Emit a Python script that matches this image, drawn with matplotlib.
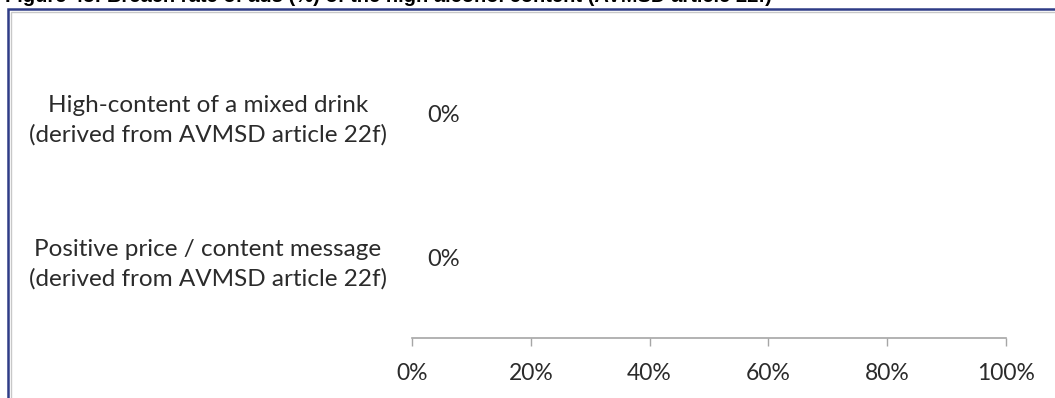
import matplotlib
matplotlib.use("Agg")
import matplotlib.pyplot as plt
from matplotlib.patches import Rectangle
from matplotlib.ticker import FixedLocator

categories = [
    "High-content of a mixed drink\n(derived from AVMSD article 22f)",
    "Positive price / content message\n(derived from AVMSD article 22f)",
]
values = [0, 0]
xticks = [0, 20, 40, 60, 80, 100]
xticklabels = ["0%", "20%", "40%", "60%", "80%", "100%"]
title = "Figure 45: Breach rate of ads (%) of the high alcohol content (AVMSD article 22f)"

W, H = 1055, 398
fig = plt.figure(figsize=(W / 100, H / 100), dpi=100)
fig.patch.set_facecolor("white")

font = "Lato"
txtcol = "#2B2B2B"

# axes: x from 412 to 1006 px, bottom at 338, top at 34
left, right = 412 / W, 1006 / W
bottom, top = 1 - 338 / H, 1 - 34 / H
ax = fig.add_axes([left, bottom, right - left, top - bottom])
ax.set_facecolor("none")

ypos = [1, 0]
ax.barh(ypos, values, height=0.5, color="#4F81BD")
ax.set_xlim(0, 100)
ax.set_ylim(-0.556, 1.556)
for y, v in zip(ypos, values):
    ax.annotate(f"{v}%", xy=(v, y), xytext=(11, -1), textcoords="offset points",
                ha="left", va="center", fontsize=17, family=font, color=txtcol)

ax.set_yticks(ypos)
ax.set_yticklabels(categories, fontsize=17.5, family=font, color=txtcol,
                   ha="center", multialignment="center", linespacing=1.45)
ax.tick_params(axis="y", length=0, pad=(412 - 208) * 0.72)

ax.xaxis.set_major_locator(FixedLocator(xticks))
ax.set_xticklabels(xticklabels, fontsize=16.5, family=font, color=txtcol)
ax.tick_params(axis="x", direction="out", length=6, width=1, color="#A6A6A6", pad=12)

for s in ["top", "right", "left"]:
    ax.spines[s].set_visible(False)
ax.spines["bottom"].set_color("#A6A6A6")
ax.spines["bottom"].set_linewidth(1.2)

# frame border (dark navy with a light grey inner line)
fig.patches.append(Rectangle((8 / W, -0.1), 1.2, 1 - 9 / H + 0.1,
                             transform=fig.transFigure, fill=False,
                             edgecolor="#2F3C86", linewidth=1.8))
fig.patches.append(Rectangle((10.5 / W, -0.1), 1.2, 1 - 11.5 / H + 0.1,
                             transform=fig.transFigure, fill=False,
                             edgecolor="#C8C8C8", linewidth=1.0))

# cut-off title at top
fig.text(5 / W, 1 - 1.5 / H, title, ha="left", va="baseline", fontsize=14.5,
         fontweight="bold", family="Liberation Sans", color="black")

fig.savefig("out.png", dpi=100)
